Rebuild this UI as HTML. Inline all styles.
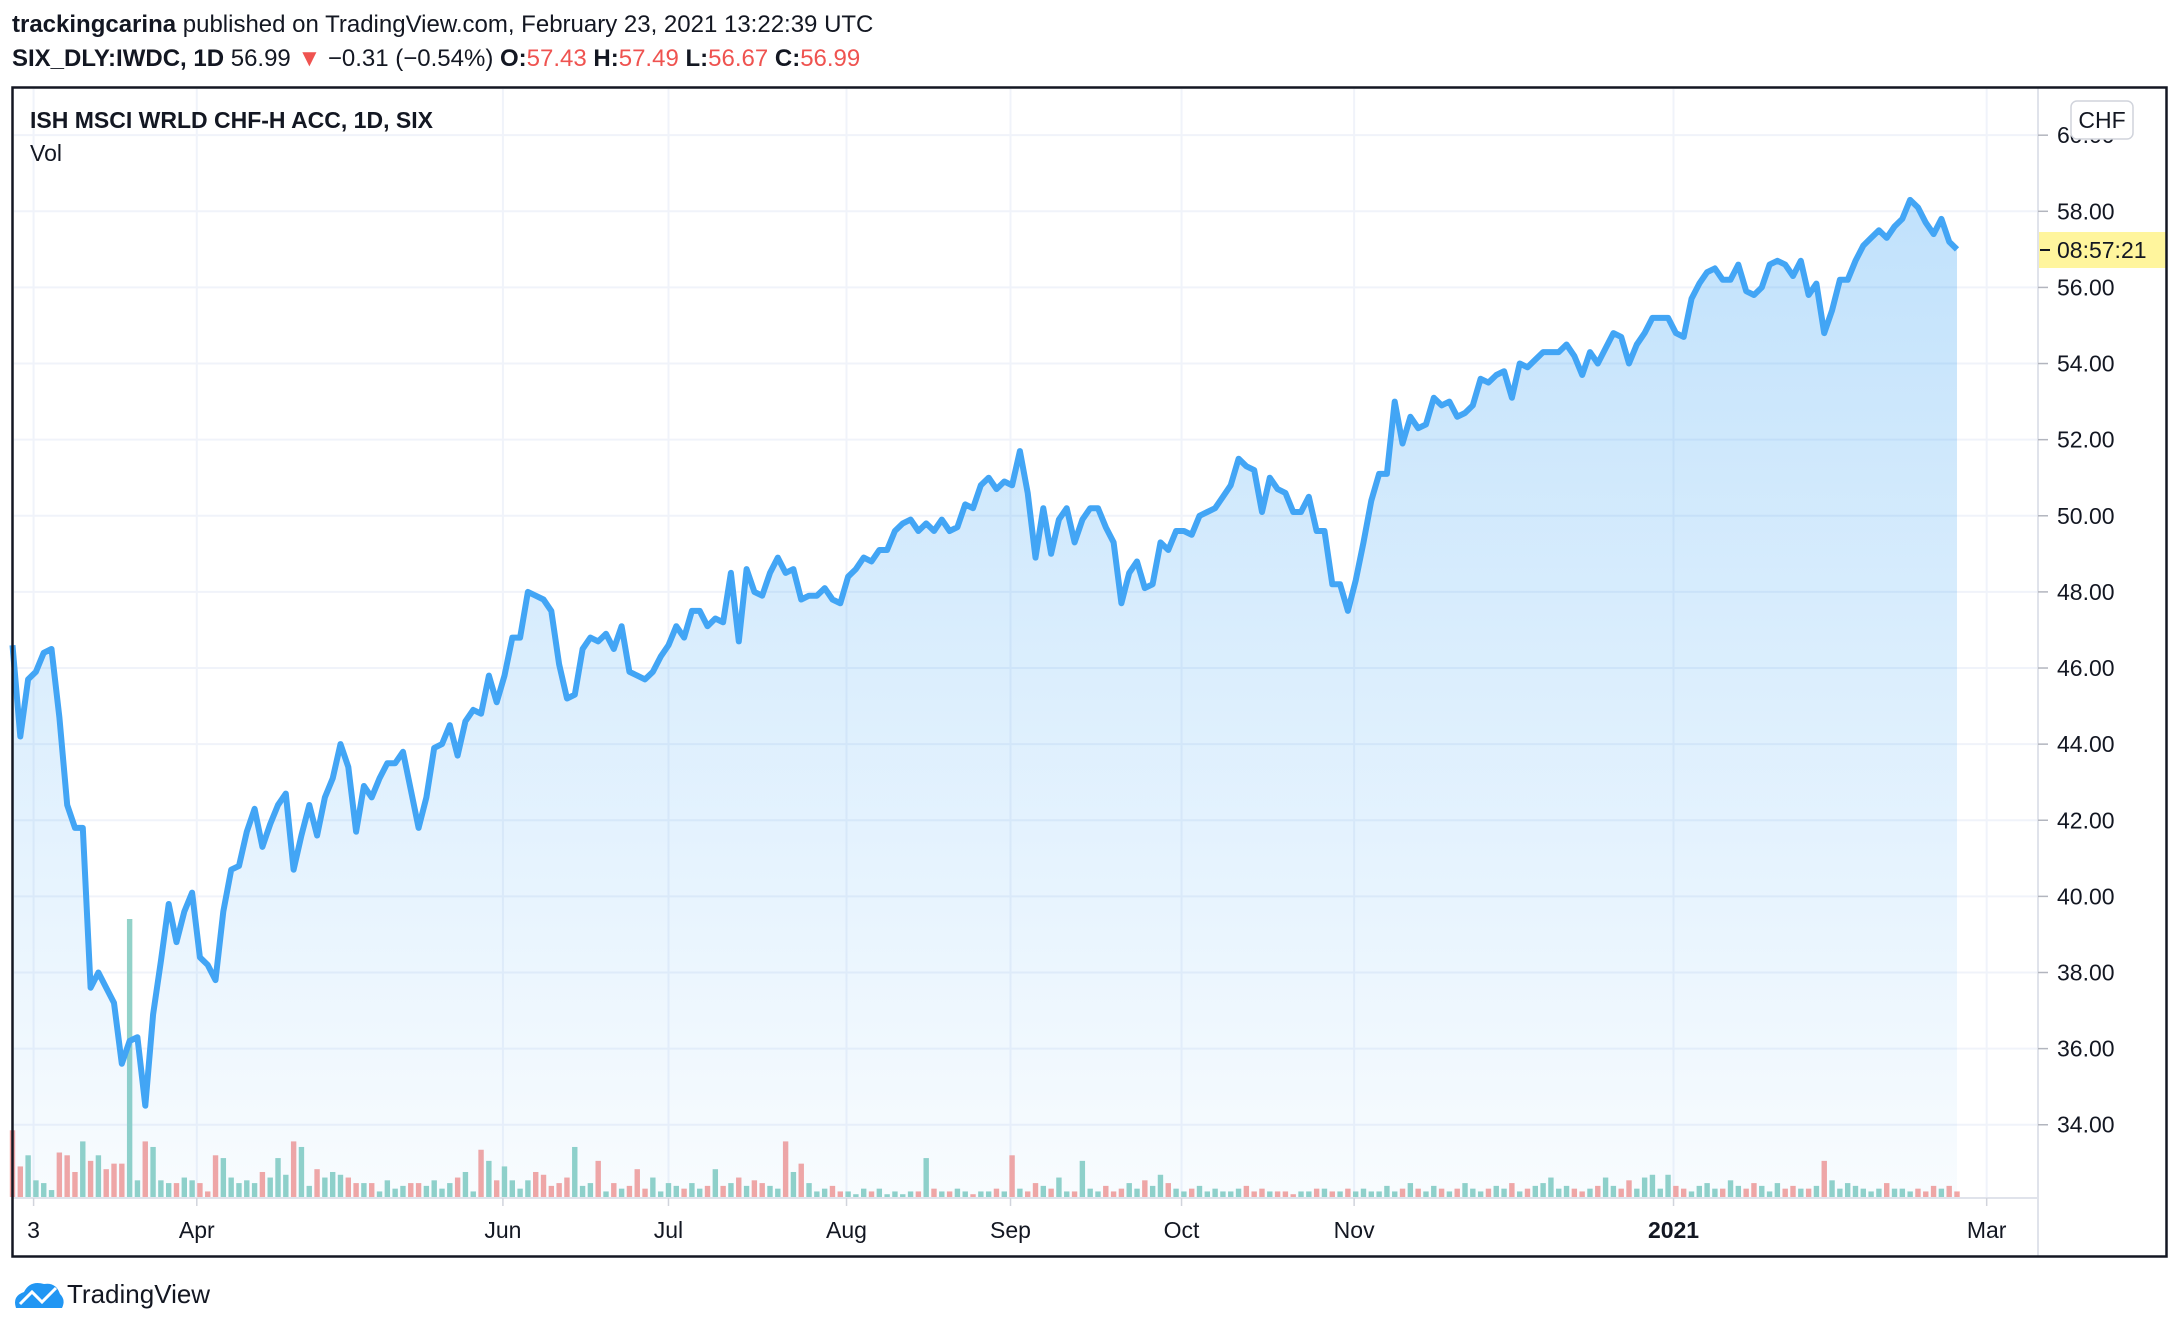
<!DOCTYPE html>
<html><head><meta charset="utf-8">
<style>
body{margin:0;background:#fff;width:2180px;height:1330px;overflow:hidden;font-family:"Liberation Sans",sans-serif;}
svg text{font-family:"Liberation Sans",sans-serif;}
</style></head>
<body>
<svg id="c" width="2180" height="1330" viewBox="0 0 2180 1330" xmlns="http://www.w3.org/2000/svg">
<defs>
<linearGradient id="fillg" x1="0" y1="0" x2="0" y2="1">
<stop offset="0" stop-color="#2196f3" stop-opacity="0.28"/>
<stop offset="1" stop-color="#2196f3" stop-opacity="0.03"/>
</linearGradient>
</defs>
<text x="12" y="32" font-size="24" fill="#131722"><tspan font-weight="bold">trackingcarina</tspan> published on TradingView.com, February 23, 2021 13:22:39 UTC</text>
<text x="12" y="66" font-size="24" fill="#131722"><tspan font-weight="bold">SIX_DLY:IWDC, 1D</tspan> 56.99 <tspan fill="#ef5350">▼</tspan> −0.31 (−0.54%) <tspan font-weight="bold">O:</tspan><tspan fill="#ef5350">57.43</tspan> <tspan font-weight="bold">H:</tspan><tspan fill="#ef5350">57.49</tspan> <tspan font-weight="bold">L:</tspan><tspan fill="#ef5350">56.67</tspan> <tspan font-weight="bold">C:</tspan><tspan fill="#ef5350">56.99</tspan></text>
<g id="grid"></g>
<g id="vol"></g>
<g id="series"></g>
<line x1="12.5" y1="1198" x2="2038" y2="1198" stroke="#e0e3eb" stroke-width="2"/>
<line x1="2038" y1="88" x2="2038" y2="1256" stroke="#e0e3eb" stroke-width="2"/>
<g id="yax"></g>
<g id="xax"></g>
<text x="30" y="128" font-size="23" font-weight="bold" fill="#131722">ISH MSCI WRLD CHF-H ACC, 1D, SIX</text>
<text x="30" y="161" font-size="23" fill="#131722">Vol</text>
<rect x="2071" y="101" width="62" height="38" rx="6" fill="#fff" stroke="#d1d4dc" stroke-width="1.5"/>
<text x="2102" y="128" font-size="23" text-anchor="middle" fill="#131722">CHF</text>
<rect x="2039" y="232" width="127" height="36" fill="#fff59d"/>
<line x1="2040" y1="250" x2="2050" y2="250" stroke="#131722" stroke-width="2"/>
<text x="2057" y="258" font-size="23" fill="#131722">08:57:21</text>
<rect x="12.5" y="87.5" width="2154" height="1169" fill="none" stroke="#131722" stroke-width="2.5"/>
<g>
<path d="M16 1308 Q12 1296 24 1292 Q30 1280 44 1284 Q56 1282 60 1294 Q66 1300 62 1308 Z" fill="#2196f3"/>
<polyline points="20,1304 32,1292 42,1302 56,1288" fill="none" stroke="#fff" stroke-width="3"/>
<text x="67" y="1303" font-size="26" fill="#131722">TradingView</text>
</g>
</svg>
<script>
const prices=[46.6,44.2,45.7,45.9,46.4,46.5,44.7,42.4,41.8,41.8,37.6,38.0,37.6,37.2,35.6,36.2,36.3,34.5,36.9,38.3,39.8,38.8,39.6,40.1,38.4,38.2,37.8,39.6,40.7,40.8,41.7,42.3,41.3,41.9,42.4,42.7,40.7,41.6,42.4,41.6,42.6,43.1,44.0,43.4,41.7,42.9,42.6,43.1,43.5,43.5,43.8,42.8,41.8,42.6,43.9,44.0,44.5,43.7,44.6,44.9,44.8,45.8,45.1,45.8,46.8,46.8,48.0,47.9,47.8,47.5,46.1,45.2,45.3,46.5,46.8,46.7,46.9,46.5,47.1,45.9,45.8,45.7,45.9,46.3,46.6,47.1,46.8,47.5,47.5,47.1,47.3,47.2,48.5,46.7,48.6,48.0,47.9,48.5,48.9,48.5,48.6,47.8,47.9,47.9,48.1,47.8,47.7,48.4,48.6,48.9,48.8,49.1,49.1,49.6,49.8,49.9,49.6,49.8,49.6,49.9,49.6,49.7,50.3,50.2,50.8,51.0,50.7,50.9,50.8,51.7,50.6,48.9,50.2,49.0,49.9,50.2,49.3,49.9,50.2,50.2,49.7,49.3,47.7,48.5,48.8,48.1,48.2,49.3,49.1,49.6,49.6,49.5,50.0,50.1,50.2,50.5,50.8,51.5,51.3,51.2,50.1,51.0,50.7,50.6,50.1,50.1,50.5,49.6,49.6,48.2,48.2,47.5,48.3,49.3,50.4,51.1,51.1,53.0,51.9,52.6,52.3,52.4,53.1,52.9,53.0,52.6,52.7,52.9,53.6,53.5,53.7,53.8,53.1,54.0,53.9,54.1,54.3,54.3,54.3,54.5,54.2,53.7,54.3,54.0,54.4,54.8,54.7,54.0,54.5,54.8,55.2,55.2,55.2,54.8,54.7,55.7,56.1,56.4,56.5,56.2,56.2,56.6,55.9,55.8,56.0,56.6,56.7,56.6,56.3,56.7,55.8,56.1,54.8,55.4,56.2,56.2,56.7,57.1,57.3,57.5,57.3,57.6,57.8,58.3,58.1,57.7,57.4,57.8,57.2,57.0];
const volumes=[48,22,30,12,10,5,32,30,18,40,26,30,20,24,24,200,12,40,36,12,10,10,14,12,10,4,30,28,14,10,12,10,18,14,28,16,40,36,8,20,14,18,16,14,10,10,10,4,12,6,8,10,10,8,12,6,10,14,18,4,34,26,12,22,12,6,12,18,16,8,10,14,36,8,10,26,4,10,6,8,20,6,14,4,10,8,6,10,6,8,20,8,10,14,8,12,10,8,6,40,18,24,10,4,6,8,4,4,2,6,4,6,2,4,2,4,4,28,6,4,4,6,4,2,4,4,6,4,30,6,4,10,8,6,14,4,4,26,6,4,8,4,6,10,6,12,8,16,10,6,4,6,8,4,6,4,4,6,8,4,6,4,4,4,2,4,4,6,6,4,4,6,4,6,4,4,8,4,6,10,6,4,8,6,4,6,10,6,4,6,8,6,10,4,6,8,10,14,6,8,6,4,6,8,14,8,6,12,6,14,16,6,16,8,6,4,8,10,6,6,12,8,6,10,8,4,10,6,8,6,6,8,26,12,6,10,8,6,4,6,10,6,6,4,6,4,8,6,8,4];
const yTicks=[34,36,38,40,42,44,46,48,50,52,54,56,58,60];
const xTickLabels=["3","Apr","Jun","Jul","Aug","Sep","Oct","Nov","2021","Mar"];
const xTickIdx=[2.7,23.6,62.8,84.0,106.8,127.8,149.7,171.8,212.7,252.8];

const NS="http://www.w3.org/2000/svg";
const X0=12.5,X1=1957,N=prices.length;
const xs=i=>X0+i*(X1-X0)/(N-1);
const ys=v=>211.3+(58-v)*38.06;
const VB=1197,VK=1.39;
const yv=v=>VB-v*VK;
function mk(tag,attrs,parent){const e=document.createElementNS(NS,tag);for(const k in attrs)e.setAttribute(k,attrs[k]);parent.appendChild(e);return e;}
const grid=document.getElementById('grid'),vol=document.getElementById('vol'),ser=document.getElementById('series'),yax=document.getElementById('yax'),xax=document.getElementById('xax');
yTicks.forEach(v=>{
  const y=ys(v);
  const l=mk('line',{x1:14,x2:2038,y1:y,y2:y,stroke:'#f0f3fa','stroke-width':2},grid);
  
  
  mk('line',{x1:2038,x2:2048,y1:y,y2:y,stroke:'#b2b5be','stroke-width':1.5},yax);
  const t=mk('text',{x:2057,y:y+8,'font-size':23,fill:'#131722'},yax);
  t.textContent=v.toFixed(2);
  
  
});
xTickLabels.forEach((lab,k)=>{
  const x=xs(xTickIdx[k]);
  const l=mk('line',{x1:x,x2:x,y1:89,y2:1198,stroke:'#f0f3fa','stroke-width':2},grid);
  
  
  mk('line',{x1:x,x2:x,y1:1198,y2:1206,stroke:'#d1d4dc','stroke-width':1.5},xax);
  const t=mk('text',{x:x,y:1238,'font-size':23,'text-anchor':'middle',fill:'#131722','font-weight':lab==='2021'?'bold':'normal'},xax);
  t.textContent=lab;
  
  
});
volumes.forEach((v,i)=>{
  const up=i===0?false:prices[i]>=prices[i-1];
  const r=mk('rect',{x:xs(i)-2.7,y:yv(v),width:5.4,height:v*VK,fill:up?'#92d2c9':'#f5a6a4'},vol);
  
  
});
let d='';prices.forEach((p,i)=>{d+=(i?'L':'M')+xs(i).toFixed(1)+' '+ys(p).toFixed(1);});
const area=mk('path',{d:d+'L'+xs(N-1)+' 1197L'+X0+' 1197Z',fill:'url(#fillg)'},ser);


const line=mk('path',{d:d,fill:'none',stroke:'#42a5f5','stroke-width':6,'stroke-linejoin':'round'},ser);


</script>
</body></html>
